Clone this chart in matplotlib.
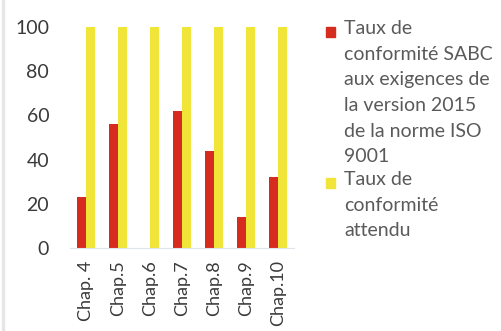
import matplotlib.pyplot as plt
from matplotlib.patches import Rectangle
import numpy as np

# data
chapters = ["Chap. 4", "Chap.5", "Chap.6", "Chap.7", "Chap.8", "Chap.9", "Chap.10"]
taux_sabc = [23, 56, 0, 62, 44, 14, 32]
taux_attendu = [100, 100, 100, 100, 100, 100, 100]
labels = ["Taux de\nconformité SABC\naux exigences de\nla version 2015\nde la norme ISO\n9001",
          "Taux de\nconformité\nattendu"]

red = "#d62b1f"
yellow = "#f1e53a"
grey = "#5a5a5a"

plt.rcParams['font.family'] = ['Lato', 'DejaVu Sans']

fig = plt.figure(figsize=(5.01, 3.31), dpi=100)
ax = fig.add_axes([70 / 501, 83 / 331, 224 / 501, 221 / 331])

x = np.arange(len(chapters))
w = 0.28
ax.bar(x - w / 2, taux_sabc, w, color=red)
ax.bar(x + w / 2, taux_attendu, w, color=yellow)

ax.set_xlim(-0.5, len(chapters) - 0.5)
ax.set_ylim(0, 100)
ax.set_yticks(range(0, 101, 20))
ax.set_xticks(x)
ax.set_xticklabels(chapters, rotation=90, fontsize=13, color="#3a3a3a")
ax.tick_params(axis="y", labelsize=14, labelcolor="#3a3a3a", length=0, pad=15)
ax.tick_params(axis="x", length=0, pad=9)
for s in ["top", "right", "left"]:
    ax.spines[s].set_visible(False)
ax.spines["bottom"].set_color("#dde4ec")

# legend drawn by hand so the square sits on the first line
entries = [(labels[0], red, 32), (labels[1], yellow, 183)]
for txt, col, ypix in entries:
    fig.patches.append(Rectangle((326 / 501, 1 - (ypix + 5) / 331), 9 / 501, 10 / 331,
                                 transform=fig.transFigure, color=col))
    fig.text(344 / 501, 1 - (ypix - 12) / 331, txt, fontsize=14, color=grey,
             va="top", ha="left", linespacing=1.62)

# faint grey strip on the left edge
fig.patches.append(Rectangle((0.004, 0), 0.004, 1, transform=fig.transFigure, color="#e6e6e6"))

fig.savefig("out.png", dpi=100)
